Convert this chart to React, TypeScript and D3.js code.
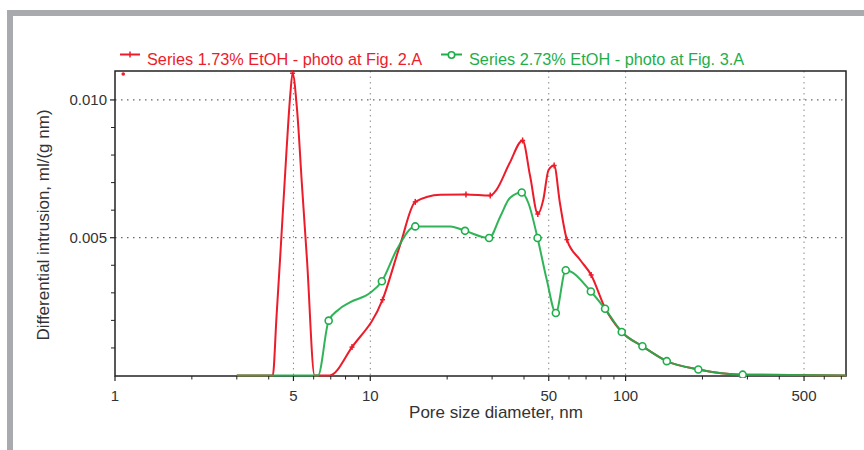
import React from "react";
import * as d3 from "d3";

// ---- data (x = pore size diameter, nm ; y = differential intrusion, ml/(g nm)) ----
// [x, y, marker(1) or not(0)]
const redSeries: [number, number, number][] = [
  [3.0, 0, 0],
  [4.15, 0, 0],
  [4.29, 0.0021, 0],
  [4.45, 0.0045, 0],
  [4.7, 0.0082, 0],
  [4.86, 0.0102, 0],
  [4.96, 0.01097, 1],
  [5.17, 0.0096, 0],
  [5.4, 0.0069, 0],
  [5.65, 0.0042, 0],
  [6.05, 0, 0],
  [6.93, 0, 0],
  [8.48, 0.00103, 1],
  [11.17, 0.00275, 1],
  [13.1, 0.00475, 0],
  [15.0, 0.0063, 1],
  [18.8, 0.00656, 0],
  [23.7, 0.00657, 1],
  [29.5, 0.00653, 1],
  [31.2, 0.00674, 0],
  [35.1, 0.0077, 0],
  [39.5, 0.00853, 1],
  [42.3, 0.00722, 0],
  [45.3, 0.00586, 1],
  [47.6, 0.00638, 0],
  [49.9, 0.00746, 0],
  [52.5, 0.00762, 1],
  [55.3, 0.00626, 0],
  [58.9, 0.00493, 1],
  [66.3, 0.0042, 0],
  [73.3, 0.00365, 1],
  [83.1, 0.00245, 1],
  [96.6, 0.00158, 1],
  [116.4, 0.00106, 1],
  [145, 0.00052, 1],
  [192.7, 0.00022, 1],
  [287.5, 0.00003, 1],
  [730, 0, 0],
];
const redStray: [number, number][] = [[1.077, 0.01094]];

const greenSeries: [number, number, number][] = [
  [3.0, 0, 0],
  [6.24, 0, 0],
  [6.87, 0.00199, 1],
  [7.51, 0.00239, 0],
  [8.35, 0.00266, 0],
  [10.0, 0.003, 0],
  [11.1, 0.00342, 1],
  [12.7, 0.00457, 0],
  [15.0, 0.00541, 1],
  [20.6, 0.00541, 0],
  [23.5, 0.00525, 1],
  [29.2, 0.00499, 1],
  [32.3, 0.00577, 0],
  [35.2, 0.00644, 0],
  [39.2, 0.00664, 1],
  [41.6, 0.00626, 0],
  [45.2, 0.00499, 1],
  [49.1, 0.00348, 0],
  [53.3, 0.00227, 1],
  [58.3, 0.00382, 1],
  [73.1, 0.00305, 1],
  [83.1, 0.00242, 1],
  [96.6, 0.00158, 1],
  [116.4, 0.00106, 1],
  [145, 0.00052, 1],
  [192.7, 0.00022, 1],
  [287.5, 0.00003, 1],
  [730, 0, 0],
];

const seriesNames = [
  "Series 1.73% EtOH - photo at Fig. 2.A",
  "Series 2.73% EtOH - photo at Fig. 3.A",
];
const xMajorTicks = [1, 5, 10, 50, 100, 500];
const xMinorTicks = [2, 3, 4, 6, 7, 8, 9, 20, 30, 40, 60, 70, 80, 90, 200, 300, 400, 600, 700];
const yMajorTicks = [0.005, 0.01];
const yMinorTicks = [0.001, 0.002, 0.003, 0.004, 0.006, 0.007, 0.008, 0.009];
const xTitle = "Pore size diameter, nm";
const yTitle = "Differential intrusion, ml/(g nm)";

const RED = "#ec1c2a";
const GREEN = "#1fae4a";
const TXT = "#333333";
const FONT = "'Liberation Sans', Arial, sans-serif";

export default function App() {
  const W = 864;
  const H = 450;
  const L = 115, R = 846, T = 71, B = 376;

  const x = d3.scaleLog().domain([1, 730]).range([L, R]);
  const y = d3.scaleLinear().domain([0, 0.01105]).range([B - 0.5, T]);

  const line = d3
    .line<[number, number, number]>()
    .x((d) => x(d[0]))
    .y((d) => y(d[1]))
    .curve(d3.curveMonotoneX);

  const plus = (cx: number, cy: number, k: string) => (
    <g key={k} stroke={RED} strokeWidth={1.5}>
      <line x1={cx} x2={cx} y1={cy - 3} y2={cy + 3} />
      <line x1={cx - 2.5} x2={cx + 2.5} y1={cy} y2={cy} />
    </g>
  );

  return (
    <svg
      width={W}
      height={H}
      style={{ position: "absolute", left: 0, top: 0, background: "#fff" }}
      fontFamily={FONT}
    >
      {/* outer gray frame */}
      <rect x={7} y={10} width={W - 7} height={6} fill="#a9aaad" />
      <rect x={7} y={10} width={6} height={H - 10} fill="#a9aaad" />

      <defs>
        <clipPath id="plotclip">
          <rect x={L} y={T - 2} width={R - L} height={B - T + 4} />
        </clipPath>
      </defs>

      {/* grid */}
      {xMajorTicks
        .filter((t) => t > 1)
        .map((t) => (
          <line
            key={"gx" + t}
            x1={x(t)}
            x2={x(t)}
            y1={T}
            y2={B}
            stroke="#8a8a8a"
            strokeWidth={1}
            strokeDasharray="1.5 4"
          />
        ))}
      {yMajorTicks.map((t) => (
        <line
          key={"gy" + t}
          x1={L}
          x2={R}
          y1={y(t)}
          y2={y(t)}
          stroke="#666"
          strokeWidth={1.2}
          strokeDasharray="1.5 4.5"
        />
      ))}

      {/* frame */}
      <rect x={L} y={T} width={R - L} height={B - T} fill="none" stroke="#222" strokeWidth={1.5} />

      {/* series */}
      <g clipPath="url(#plotclip)">
        <path d={line(redSeries) || ""} fill="none" stroke={RED} strokeWidth={2} strokeLinejoin="round" />
        <path
          d={line(greenSeries) || ""}
          fill="none"
          stroke={GREEN}
          strokeWidth={2}
          strokeLinejoin="round"
          opacity={0.92}
        />
        {redSeries.filter((d) => d[2]).map((d, i) => plus(x(d[0]), y(d[1]), "rm" + i))}
        {redStray.map((d, i) => (
          <circle key={"rs" + i} cx={x(d[0])} cy={y(d[1])} r={1.8} fill={RED} />
        ))}
        {greenSeries
          .filter((d) => d[2])
          .map((d, i) => (
            <circle
              key={"gm" + i}
              cx={x(d[0])}
              cy={y(d[1])}
              r={3.5}
              fill="#fff"
              stroke={GREEN}
              strokeWidth={1.6}
            />
          ))}
      </g>

      {/* x ticks */}
      {xMajorTicks.map((t) => (
        <g key={"xt" + t}>
          <line x1={x(t)} x2={x(t)} y1={B} y2={B + 5} stroke="#222" strokeWidth={1.2} />
          <text x={x(t)} y={401} textAnchor="middle" fontSize={15} fill={TXT}>
            {t}
          </text>
        </g>
      ))}
      {xMinorTicks.map((t) => (
        <line key={"xm" + t} x1={x(t)} x2={x(t)} y1={B} y2={B + 3.5} stroke="#222" strokeWidth={1} />
      ))}

      {/* y ticks */}
      {yMajorTicks.map((t) => (
        <g key={"yt" + t}>
          <line x1={L - 5} x2={L} y1={y(t)} y2={y(t)} stroke="#222" strokeWidth={1.2} />
          <text x={107} y={y(t)} dy="0.36em" textAnchor="end" fontSize={15} fill={TXT}>
            {d3.format(".3f")(t)}
          </text>
        </g>
      ))}
      {yMinorTicks.map((t) => (
        <line key={"ym" + t} x1={L - 4} x2={L} y1={y(t)} y2={y(t)} stroke="#222" strokeWidth={1} />
      ))}

      {/* axis titles */}
      <text x={(406 + 586) / 2} y={418} textAnchor="middle" fontSize={17} fill={TXT}>
        {xTitle}
      </text>
      <text
        transform={`translate(49, 225) rotate(-90)`}
        textAnchor="middle"
        fontSize={17}
        fill={TXT}
      >
        {yTitle}
      </text>

      {/* legend */}
      <g>
        <line x1={120} x2={140} y1={54.5} y2={54.5} stroke={RED} strokeWidth={2} />
        <line x1={130} x2={130} y1={51.5} y2={57.5} stroke={RED} strokeWidth={1.5} />
        <text x={147} y={65} fontSize={16.3} fill={RED}>
          {seriesNames[0]}
        </text>
        <line x1={441} x2={462} y1={54.5} y2={54.5} stroke={GREEN} strokeWidth={2} />
        <circle cx={451.5} cy={55} r={3.2} fill="#fff" stroke={GREEN} strokeWidth={1.6} />
        <text x={469} y={65} fontSize={16.3} fill={GREEN}>
          {seriesNames[1]}
        </text>
      </g>
    </svg>
  );
}
